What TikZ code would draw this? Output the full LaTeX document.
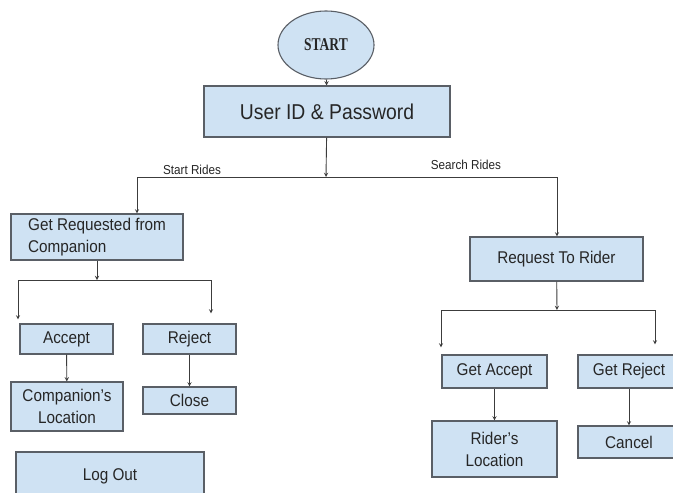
\documentclass[tikz,border=0pt]{standalone}
\usepackage{fontspec}
\setmainfont{Liberation Sans}[FakeStretch=0.9]
\newfontfamily\startfont{Liberation Serif}[FakeStretch=0.75]
\usepackage{tikz}
\usetikzlibrary{shapes.geometric}

\definecolor{boxfill}{HTML}{CFE2F3}
\definecolor{boxline}{HTML}{5A5F66}
\definecolor{wire}{HTML}{3C3C3C}
\definecolor{ink}{HTML}{262626}

\tikzset{
    box/.style={draw=boxline, fill=boxfill, line width=1.1pt, inner sep=2pt,
        text=ink, font=\fontsize{17}{22}\selectfont},
    oval/.style={ellipse, draw=boxline, fill=boxfill, line width=1.1pt,
        minimum width=96pt, minimum height=68pt, inner sep=0pt, text=ink},
    arr/.style={->, >=stealth, draw=wire, line width=0.9pt},
    wirelbl/.style={font=\fontsize{13}{15}\selectfont, text=ink}
}

\begin{document}
\begin{tikzpicture}[x=1pt, y=-1pt]
        \clip (0,0) rectangle (673,493);
        \fill[white] (0,0) rectangle (673,493);
        % Start and login
        \node[oval] (start) at (326,45) {\startfont\bfseries\fontsize{18}{20}\selectfont START};
        \node[box, minimum width=246pt, minimum height=51pt, font=\fontsize{21.5}{24}\selectfont] (login) at (327,111.5) {User ID \& Password};
        % Two branches
        \node[box, minimum width=172pt, minimum height=46pt, align=left] (getreq) at (97,237) {Get Requested from\\Companion};
        \node[box, minimum width=173pt, minimum height=44pt] (reqrider) at (556.5,259) {Request To Rider};
        % Companion side
        \node[box, minimum width=93pt, minimum height=30pt] (accept) at (66.5,339) {Accept};
        \node[box, minimum width=93pt, minimum height=30pt] (reject) at (189.5,339) {Reject};
        \node[box, minimum width=112pt, minimum height=49pt, align=center] (comploc) at (67,406.5) {Companion's\\Location};
        \node[box, minimum width=93pt, minimum height=27pt] (close) at (189.5,400.5) {Close};
        \node[box, minimum width=188pt, minimum height=48pt] (logout) at (110,476) {Log Out};
        % Rider side
        \node[box, minimum width=105pt, minimum height=33pt] (getacc) at (494.5,371.5) {Get Accept};
        \node[box, minimum width=102pt, minimum height=33pt] (getrej) at (629,371.5) {Get Reject};
        \node[box, minimum width=125pt, minimum height=56pt, align=center] (riderloc) at (494.5,449) {Rider's\\Location};
        \node[box, minimum width=102pt, minimum height=32pt] (cancel) at (629,442) {Cancel};
        % Split points
        \coordinate (split) at (326,177);
        \coordinate (splitL) at (137,177);
        \coordinate (splitR) at (557,177);
        \coordinate (reqsplit) at (97,280);
        \coordinate (reqL) at (18,280);
        \coordinate (reqR) at (211,280);
        \coordinate (ridersplit) at (557,310);
        \coordinate (riderL) at (441,310);
        \coordinate (riderR) at (655,310);
        % Connectors
        \draw[arr] (start) -- (login);
        \draw[arr] (login) -- (split);
        \draw[arr] (split) -- (splitL) -- (splitL |- getreq.north);
        \draw[arr] (split) -- (splitR) -- (splitR |- reqrider.north);
        \draw[arr] (getreq.south -| reqsplit) -- (reqsplit);
        \draw[arr] (reqsplit) -- (reqL) -- ([yshift=4pt]reqL |- accept.north);
        \draw[arr] (reqsplit) -- (reqR) -- ([yshift=10pt]reqR |- reject.north);
        \draw[arr] (accept) -- (comploc);
        \draw[arr] (reject) -- (close);
        \draw[arr] (reqrider) -- (ridersplit);
        \draw[arr] (ridersplit) -- (riderL) -- ([yshift=7pt]riderL |- getacc.north);
        \draw[arr] (ridersplit) -- (riderR) -- ([yshift=10pt]riderR |- getrej.north);
        \draw[arr] (getacc) -- (riderloc);
        \draw[arr] (getrej) -- (cancel);
        % Branch labels
        \node[wirelbl] (startlbl) at (192,170) {Start Rides};
        \node[wirelbl] (searchlbl) at (466,165) {Search Rides};
    \end{tikzpicture}
\end{document}
